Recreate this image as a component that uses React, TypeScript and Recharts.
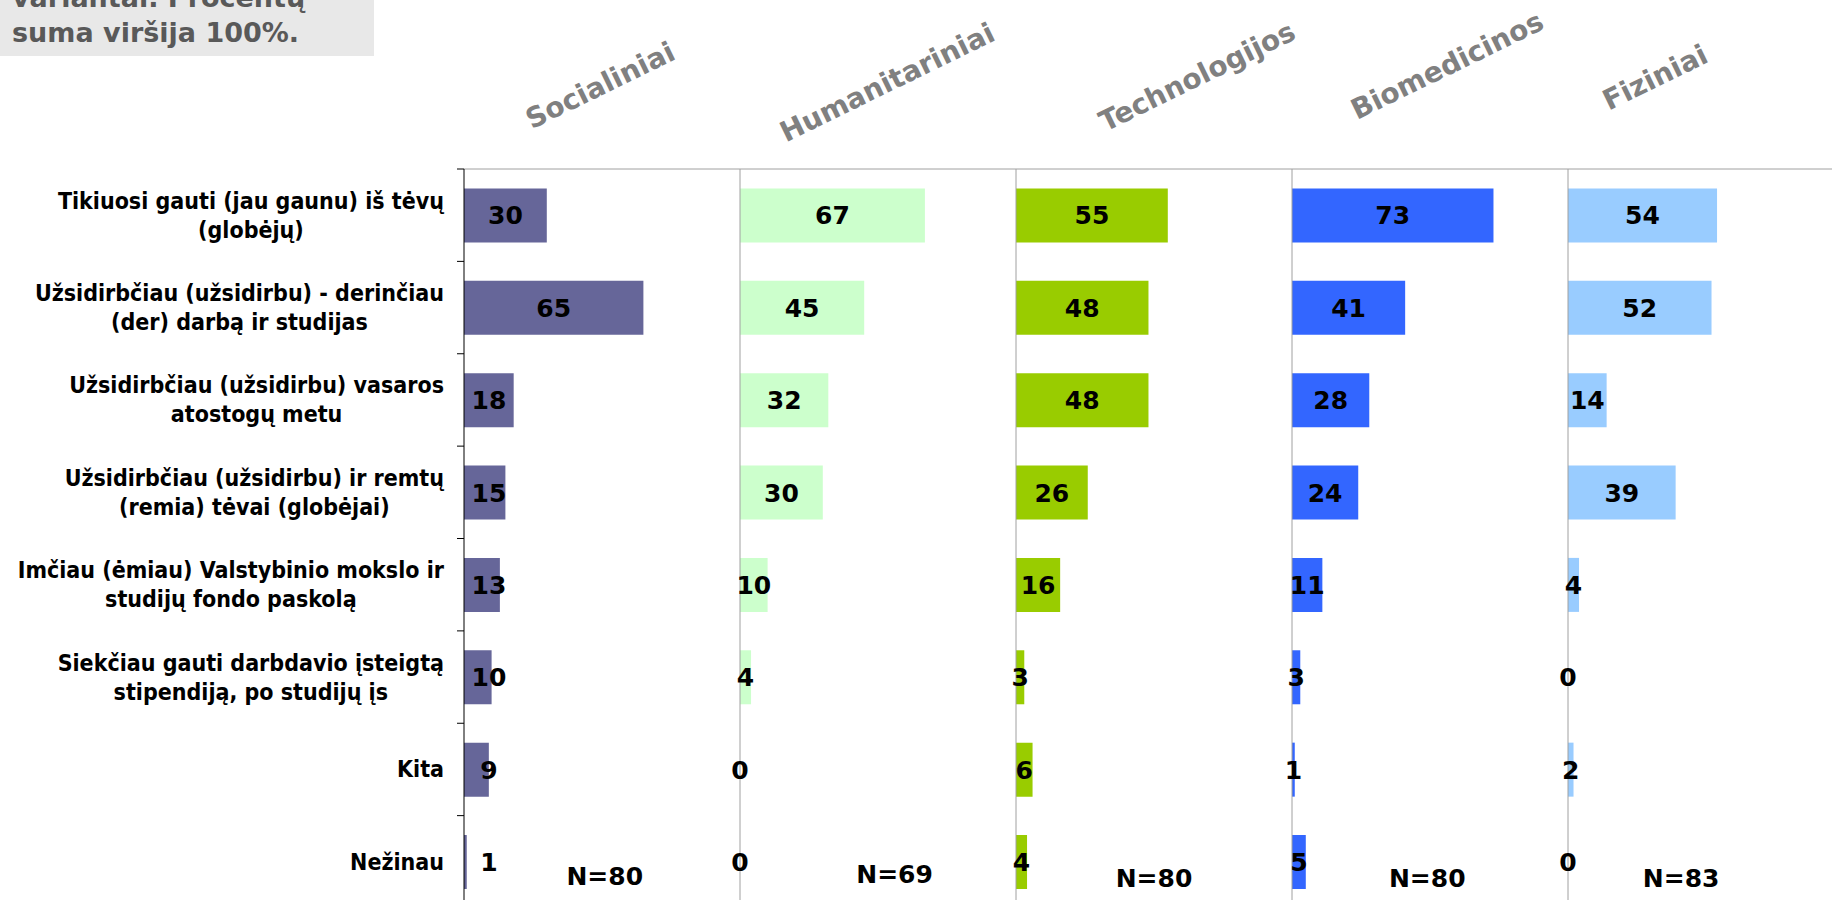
import React from 'react';
import { BarChart, Bar, XAxis, YAxis, LabelList, ReferenceDot } from 'recharts';

const categories = [
  'Tikiuosi gauti (jau gaunu) iš tėvų\n(globėjų)',
  'Užsidirbčiau (užsidirbu) - derinčiau\n(der) darbą ir studijas',
  'Užsidirbčiau (užsidirbu) vasaros\natostogų metu',
  'Užsidirbčiau (užsidirbu) ir remtų\n(remia) tėvai (globėjai)',
  'Imčiau (ėmiau) Valstybinio mokslo ir\nstudijų fondo paskolą',
  'Siekčiau gauti darbdavio įsteigtą\nstipendiją, po studijų  įs',
  'Kita',
  'Nežinau',
];

const panelNames = ['Socialiniai', 'Humanitariniai', 'Technologijos', 'Biomedicinos', 'Fiziniai'];

const socialValues = [30, 65, 18, 15, 13, 10, 9, 1];
const humanitarianValues = [67, 45, 32, 30, 10, 4, 0, 0];
const technologyValues = [55, 48, 48, 26, 16, 3, 6, 4];
const biomedicalValues = [73, 41, 28, 24, 11, 3, 1, 5];
const physicalValues = [54, 52, 14, 39, 4, 0, 2, 0];

const sampleSizes = [80, 69, 80, 80, 83];
const panelColors = ['#666699', '#CCFFCC', '#99CC00', '#3366FF', '#99CCFF'];
const noteLines = ['variantai. Procentų', 'suma viršija 100%.'];

const panelValues = [socialValues, humanitarianValues, technologyValues, biomedicalValues, physicalValues];

// layout
const LABEL_W = 464;
const PANEL_W = 276;
const TOP = 169;
const CHART_H = 908;
const BAND = (CHART_H - TOP) / categories.length;
const LINE_H = 29;
const FONT = "'DejaVu Sans', Verdana, sans-serif";
const LABEL_FONT = "'DejaVu Sans Condensed', 'Liberation Sans Narrow', 'DejaVu Sans', sans-serif";
const LABEL_SIZE = 23;

// title centres and N-label placement (x in value units, dy in px)
const titlePos = [
  [600, 85],
  [887, 82],
  [1197, 76],
  [1447, 65],
  [1655, 77],
];
const nLabelPos = [
  [51, 14],
  [56, 12],
  [50, 16],
  [49, 16],
  [41, 16],
];

let ctx: CanvasRenderingContext2D | null = null;
const measure = (text: string) => {
  if (!ctx) ctx = document.createElement('canvas').getContext('2d');
  if (!ctx) return text.length * 11;
  ctx.font = `bold ${LABEL_SIZE}px ${LABEL_FONT}`;
  return ctx.measureText(text).width;
};

const CategoryTick = (props: any) => {
  const { y, payload } = props;
  const lines = String(payload.value).split('\n');
  const blockW = Math.max(...lines.map(measure));
  const cx = LABEL_W - 20 - blockW / 2;
  const first = y - ((lines.length - 1) * LINE_H) / 2;
  return (
    <g>
      <line x1={LABEL_W - 7} x2={LABEL_W} y1={y - BAND / 2} y2={y - BAND / 2} stroke="#000" />
      <text textAnchor="middle" fontFamily={LABEL_FONT} fontWeight="bold" fontSize={LABEL_SIZE} fill="#000">
        {lines.map((l, i) => (
          <tspan key={i} x={cx} y={first + i * LINE_H + 8}>
            {l}
          </tspan>
        ))}
      </text>
    </g>
  );
};

const makeValueLabel = (minOffset: number) => (props: any) => {
  const { x, y, width, height, value } = props;
  const cx = Math.max(Number(x) + Number(width) / 2, Number(x) + minOffset);
  return (
    <text
      x={cx}
      y={Number(y) + Number(height) / 2 + 9}
      textAnchor="middle"
      fontFamily={FONT}
      fontWeight="bold"
      fontSize={25}
      fill="#000"
    >
      {value}
    </text>
  );
};

const Panel = ({ index }: { index: number }) => {
  const first = index === 0;
  const rows = categories.map((c, i) => ({ category: c, value: panelValues[index][i] }));
  const left = first ? 0 : LABEL_W + PANEL_W * index - 1;
  const [nx, ndy] = nLabelPos[index];
  return (
    <div style={{ position: 'absolute', left, top: 0 }}>
      <BarChart
        layout="vertical"
        width={(first ? LABEL_W : 1) + PANEL_W}
        height={CHART_H}
        data={rows}
        margin={{ top: TOP - 1, right: 0, bottom: 0, left: 0 }}
        barCategoryGap="21%"
      >
        <XAxis
          type="number"
          domain={[0, 100]}
          orientation="top"
          height={1}
          tick={false}
          tickLine={false}
          axisLine={{ stroke: '#a0a0a0' }}
        />
        <YAxis
          type="category"
          dataKey="category"
          width={first ? LABEL_W : 1}
          interval={0}
          tickLine={false}
          tickSize={0}
          axisLine={{ stroke: first ? '#000' : '#a0a0a0' }}
          tick={first ? (p: any) => <CategoryTick {...p} /> : false}
        />
        <Bar dataKey="value" fill={panelColors[index]} minPointSize={0.01} isAnimationActive={false}>
          <LabelList dataKey="value" content={makeValueLabel(first ? 25 : 0)} />
        </Bar>
        <ReferenceDot
          x={nx}
          y={categories[categories.length - 1]}
          r={0}
          fill="none"
          stroke="none"
          label={{
            value: `N=${sampleSizes[index]}`,
            position: 'center',
            dy: ndy,
            fontSize: 25,
            fontWeight: 'bold',
            fontFamily: FONT,
            fill: '#000',
          }}
        />
      </BarChart>
    </div>
  );
};

export default function App() {
  return (
    <div
      style={{
        position: 'absolute',
        left: 0,
        top: 0,
        width: 1832,
        height: 900,
        overflow: 'hidden',
        background: '#fff',
      }}
    >
      <style>{'.recharts-surface { overflow: visible; }'}</style>
      {panelNames.map((_, i) => (
        <Panel key={i} index={i} />
      ))}
      <svg
        width={1832}
        height={900}
        style={{ position: 'absolute', left: 0, top: 0, pointerEvents: 'none' }}
      >
        <rect x={0} y={0} width={374} height={56} fill="#e8e8e8" />
        {noteLines.map((t, i) => (
          <text key={t} x={12} y={7 + i * 35} fontFamily={FONT} fontWeight="bold" fontSize={27} fill="#595959">
            {t}
          </text>
        ))}
        {panelNames.map((name, i) => {
          const [cx, cy] = titlePos[i];
          return (
            <text
              key={name}
              x={cx}
              y={cy + 10}
              textAnchor="middle"
              transform={`rotate(-26 ${cx} ${cy})`}
              fontFamily={FONT}
              fontWeight="bold"
              fontSize={28}
              fill="#808080"
            >
              {name}
            </text>
          );
        })}
      </svg>
    </div>
  );
}
